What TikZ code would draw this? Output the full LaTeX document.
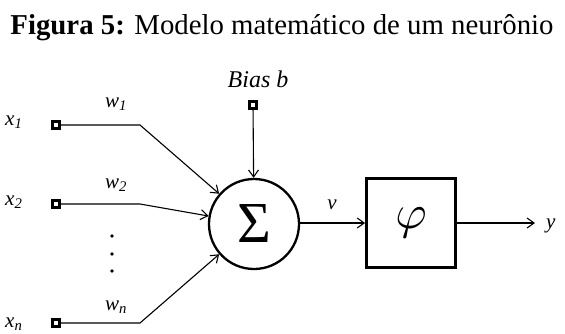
\documentclass[tikz,border=0pt]{standalone}
\usepackage{graphicx}
\usepackage{fontspec}
\setmainfont{Liberation Serif}
\usetikzlibrary{arrows.meta}
\begin{document}
\begin{tikzpicture}[x=1pt,y=-1pt,
  port/.style={draw, line width=2.8pt, minimum size=7.5pt, inner sep=0pt, fill=white},
  wire/.style={line width=1.1pt},
  arr/.style={wire, -{Straight Barb[length=7pt,width=10pt]}},
  lab/.style={font=\fontsize{21}{21}\selectfont\itshape, inner sep=0pt}]
\useasboundingbox (0,0) rectangle (565,333);
\node[font=\fontsize{28.8}{28.8}\selectfont] (title) at (282,28) {\textbf{Figura 5:} Modelo matemático de um neurônio};
% inputs
\node[port] (p1) at (56,125) {};
\node[port] (p2) at (56,204) {};
\node[port] (pn) at (56,323) {};
\node[lab, anchor=west] (x1) at (5,122) {x\textsubscript{1}};
\node[lab, anchor=west] (x2) at (5,202) {x\textsubscript{2}};
\node[lab, anchor=west] (xn) at (5,324) {x\textsubscript{n}};
\node[lab] (w1) at (116,104) {w\textsubscript{1}};
\node[lab] (w2) at (116,185) {w\textsubscript{2}};
\node[lab] (wn) at (116,307) {w\textsubscript{n}};
\coordinate (k1) at (140,125);
\coordinate (k2) at (140,204);
\coordinate (kn) at (140,323);
% dots
\fill (112,236) circle (1.8pt);
\fill (112,254) circle (1.8pt);
\fill (112,271) circle (1.8pt);
% summation
\node[circle, draw, line width=2.3pt, minimum size=90pt, inner sep=0pt] (sum) at (254,224) {\fontsize{58}{58}\selectfont Σ};
% bias
\node[port, line width=2.5pt, minimum size=7pt] (pb) at (253,105) {};
\node[lab, font=\fontsize{24}{24}\selectfont\itshape] (bias) at (258,79) {Bias b};
% activation
\node[draw, line width=2.8pt, minimum size=89pt, inner sep=0pt] (phi) at (411,223) {\scalebox{4.8}{$\varphi$}};
\coordinate (out) at (535,223);
\node[lab, anchor=west] (y) at (546,226) {y};
\node[lab] (v) at (332,205) {v};
% connectors
\draw[arr] (p1) -- (k1) -- (sum);
\draw[arr] (p2) -- (k2) -- (sum);
\draw[arr] (pn) -- (kn) -- (sum);
\draw[arr] (pb) -- (sum);
\draw[arr] (sum.east |- phi.west) -- (phi.west);
\draw[arr] (phi) -- (out);
\end{tikzpicture}
\end{document}
